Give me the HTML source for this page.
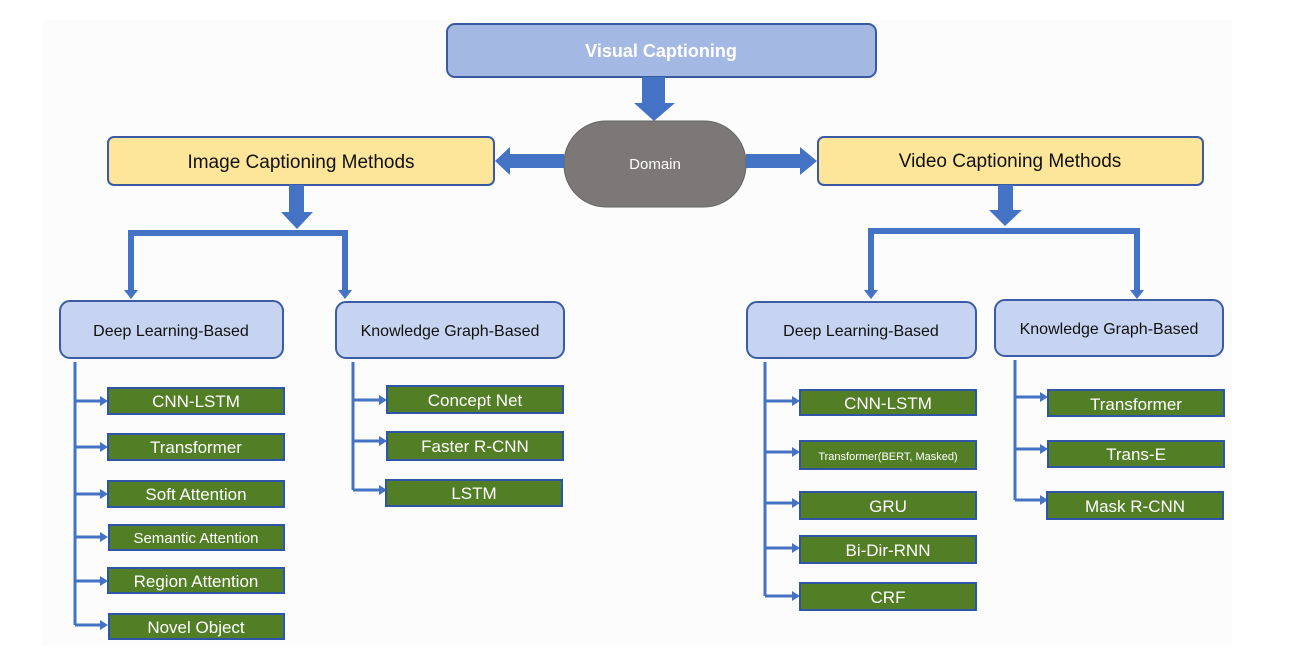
<!DOCTYPE html>
<html><head><meta charset="utf-8"><style>
html,body{margin:0;padding:0;background:#fff;}
svg{display:block;}
text{font-family:"Liberation Sans",sans-serif;}
.g{fill:#527f26;stroke:#2f55a8;stroke-width:2;}
.gt{fill:#fff;font-size:17px;text-anchor:middle;}
.lb{fill:#c6d4f1;stroke:#3b5ca5;stroke-width:2;}
.lbt{fill:#111;font-size:16px;text-anchor:middle;}
.ln{stroke:#4472c4;stroke-width:3;fill:none;}
.ar{fill:#4472c4;}
</style></head><body>
<svg width="1315" height="661" viewBox="0 0 1315 661" xmlns="http://www.w3.org/2000/svg">
<rect x="42" y="20" width="1190" height="626" fill="#fcfcfd"/>
<!-- top -->
<rect x="447" y="24" width="429" height="53" rx="8" fill="#a4b8e4" stroke="#3a5aa0" stroke-width="2"/>
<text x="661" y="57" style="font-size:18px;font-weight:bold;fill:#fff;text-anchor:middle">Visual Captioning</text>
<polygon class="ar" points="642,77 665,77 665,103 675,103 654,121 634,103 642,103"/>
<rect x="564" y="121" width="182" height="86" rx="42" fill="#7b7877" stroke="#666" stroke-width="1"/>
<text x="655" y="169" style="font-size:15px;fill:#fff;text-anchor:middle">Domain</text>
<polygon class="ar" points="564,154 510,154 510,147 495,161 510,175 510,168 564,168"/>
<polygon class="ar" points="746,154 800,154 800,147 817,161 800,175 800,168 746,168"/>
<!-- method boxes -->
<rect x="108" y="137" width="386" height="48" rx="6" fill="#fde59a" stroke="#3b5ca5" stroke-width="2"/>
<text x="301" y="168" style="font-size:19px;fill:#111;text-anchor:middle">Image Captioning Methods</text>
<rect x="818" y="137" width="385" height="48" rx="6" fill="#fde59a" stroke="#3b5ca5" stroke-width="2"/>
<text x="1010" y="167" style="font-size:19px;fill:#111;text-anchor:middle">Video Captioning Methods</text>
<!-- left bracket -->
<polygon class="ar" points="289,185 304,185 304,212 313,212 297,229 281,212 289,212"/>
<rect class="ar" x="128" y="230" width="220" height="6"/>
<rect class="ar" x="128" y="230" width="6" height="62"/><polygon class="ar" points="124,290 138,290 131,299"/>
<rect class="ar" x="342" y="230" width="6" height="62"/><polygon class="ar" points="338,290 352,290 345,299"/>
<!-- right bracket -->
<polygon class="ar" points="998,185 1013,185 1013,210 1022,210 1005,226 989,210 998,210"/>
<rect class="ar" x="868" y="228" width="272" height="6"/>
<rect class="ar" x="868" y="228" width="6" height="64"/><polygon class="ar" points="864,290 878,290 871,299"/>
<rect class="ar" x="1134" y="228" width="6" height="64"/><polygon class="ar" points="1130,290 1144,290 1137,299"/>
<!-- category boxes -->
<rect class="lb" x="60" y="301" width="223" height="57" rx="10"/><text class="lbt" x="171" y="336">Deep Learning-Based</text>
<rect class="lb" x="336" y="302" width="228" height="56" rx="10"/><text class="lbt" x="450" y="336">Knowledge Graph-Based</text>
<rect class="lb" x="747" y="302" width="229" height="56" rx="10"/><text class="lbt" x="861" y="336">Deep Learning-Based</text>
<rect class="lb" x="995" y="300" width="228" height="56" rx="10"/><text class="lbt" x="1109" y="334">Knowledge Graph-Based</text>
<!-- left DL tree -->
<path class="ln" d="M75,362 V625 M75,401 H102 M75,447 H102 M75,494 H102 M75,537 H102 M75,581 H102 M75,625 H102"/>
<g class="ar"><polygon points="100,396 108,401 100,406"/><polygon points="100,442 108,447 100,452"/><polygon points="100,489 108,494 100,499"/><polygon points="100,532 108,537 100,542"/><polygon points="100,576 108,581 100,586"/><polygon points="100,620 108,625 100,630"/></g>
<rect class="g" x="108" y="388" width="176" height="26"/><text class="gt" x="196" y="407">CNN-LSTM</text>
<rect class="g" x="108" y="434" width="176" height="26"/><text class="gt" x="196" y="453">Transformer</text>
<rect class="g" x="108" y="481" width="176" height="26"/><text class="gt" x="196" y="500">Soft Attention</text>
<rect class="g" x="109" y="525" width="175" height="25"/><text class="gt" x="196" y="543" style="font-size:15px">Semantic Attention</text>
<rect class="g" x="108" y="568" width="176" height="25"/><text class="gt" x="196" y="587">Region  Attention</text>
<rect class="g" x="109" y="614" width="175" height="25"/><text class="gt" x="196" y="633">Novel Object</text>
<!-- left KG tree -->
<path class="ln" d="M353,362 V490 M353,400 H381 M353,441 H381 M353,490 H381"/>
<g class="ar"><polygon points="379,395 387,400 379,405"/><polygon points="379,436 387,441 379,446"/><polygon points="379,485 387,490 379,495"/></g>
<rect class="g" x="387" y="386" width="176" height="27"/><text class="gt" x="475" y="406">Concept Net</text>
<rect class="g" x="387" y="432" width="176" height="28"/><text class="gt" x="475" y="452">Faster R-CNN</text>
<rect class="g" x="386" y="480" width="176" height="26"/><text class="gt" x="474" y="499">LSTM</text>
<!-- right DL tree -->
<path class="ln" d="M765,362 V596 M765,401 H794 M765,452 H794 M765,503 H794 M765,548 H794 M765,596 H794"/>
<g class="ar"><polygon points="792,396 800,401 792,406"/><polygon points="792,447 800,452 792,457"/><polygon points="792,498 800,503 792,508"/><polygon points="792,543 800,548 792,553"/><polygon points="792,591 800,596 792,601"/></g>
<rect class="g" x="800" y="390" width="176" height="25"/><text class="gt" x="888" y="409">CNN-LSTM</text>
<rect class="g" x="800" y="441" width="176" height="28"/><text class="gt" x="888" y="460" style="font-size:11px">Transformer(BERT, Masked)</text>
<rect class="g" x="800" y="492" width="176" height="27"/><text class="gt" x="888" y="512">GRU</text>
<rect class="g" x="800" y="536" width="176" height="27"/><text class="gt" x="888" y="556">Bi-Dir-RNN</text>
<rect class="g" x="800" y="583" width="176" height="27"/><text class="gt" x="888" y="603">CRF</text>
<!-- right KG tree -->
<path class="ln" d="M1015,360 V500 M1015,397 H1042 M1015,449 H1042 M1015,500 H1042"/>
<g class="ar"><polygon points="1040,392 1048,397 1040,402"/><polygon points="1040,444 1048,449 1040,454"/><polygon points="1040,495 1048,500 1040,505"/></g>
<rect class="g" x="1048" y="390" width="176" height="26"/><text class="gt" x="1136" y="410">Transformer</text>
<rect class="g" x="1048" y="441" width="176" height="26"/><text class="gt" x="1136" y="460">Trans-E</text>
<rect class="g" x="1047" y="492" width="176" height="27"/><text class="gt" x="1135" y="512">Mask R-CNN</text>
</svg>
</body></html>
